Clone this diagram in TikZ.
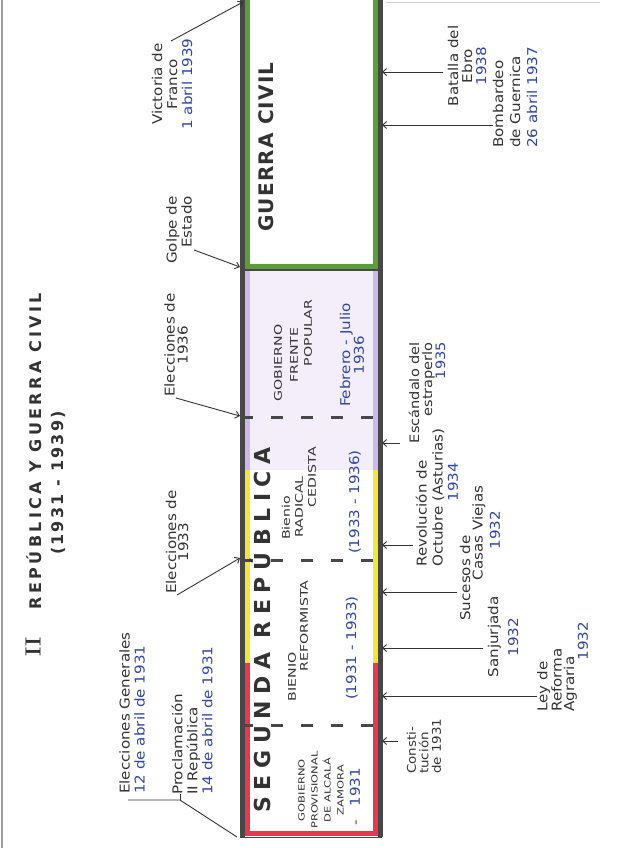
\documentclass[tikz,border=0pt]{standalone}
\usepackage{fontspec}
\usetikzlibrary{arrows.meta}
\newfontfamily\hand{DejaVu Sans}[FakeStretch=1.12]
\newfontfamily\capsf{DejaVu Sans}[FakeStretch=1.35]
\newfontfamily\blockf{DejaVu Sans}
\definecolor{ink}{HTML}{333333}
\definecolor{pen}{HTML}{2F45A8}
\definecolor{barline}{HTML}{474747}
\definecolor{rojo}{HTML}{E8384F}
\definecolor{amar}{HTML}{F2E63D}
\definecolor{lila}{HTML}{CDB9E8}
\definecolor{lilaf}{HTML}{F4EEFA}
\definecolor{verde}{HTML}{5A9E3A}
\begin{document}
\begin{tikzpicture}[x=1pt,y=-1pt,
  lab/.style={rotate=90,text=ink,inner sep=1pt,font=\hand\fontsize{13.5}{14}\selectfont},
  labd/.style={lab,text=pen},
  inb/.style={rotate=90,text=ink,inner sep=1pt,font=\capsf\fontsize{10.5}{12}\selectfont},
  arr/.style={draw=ink,line width=0.9pt,-{Straight Barb[length=4pt,width=7pt]}},
  conn/.style={draw=ink,line width=0.9pt},
  dsh/.style={draw=barline,line width=3pt,dash pattern=on 12pt off 18pt},
  stripe/.style={line width=5pt},
]
\useasboundingbox (0,0) rectangle (618,848);
\fill[white] (0,0) rectangle (618,848);
% page edges
\draw[gray!75,line width=2.5pt] (2,0) -- (2,848);
\draw[gray!35,line width=1pt] (386,3) -- (600,3);

% ---- bar ----
\fill[lilaf] (244,270) rectangle (378,470);
\draw[verde,stripe] (247,0) -- (247,266) -- (375,266) -- (375,0);
\draw[lila,stripe] (247,270) -- (247,470) (375,270) -- (375,470);
\draw[amar,stripe] (247,470) -- (247,663) (375,470) -- (375,663);
\draw[rojo,stripe] (247,663) -- (247,833) -- (375,833) -- (375,663);
\draw[barline,line width=5pt] (242,0) -- (242,837) (380,0) -- (380,837);
\draw[barline,line width=2pt] (242,269.5) -- (380,269.5);
\draw[barline,line width=1pt] (240,837) -- (382,837);
\draw[dsh] (241,417) -- (380,417);
\draw[dsh] (241,560) -- (380,560);
\draw[dsh] (241,725) -- (380,725);

\coordinate (barR) at (382,0);
\coordinate (barBL) at (237,837);
\coordinate (b33) at (240,558);
\coordinate (b36) at (240,416);
\coordinate (bGolpe) at (240,267);
\coordinate (bTop) at (243,2);

% ---- title ----
\node[rotate=90,text=ink,inner sep=0pt,font=\rmfamily\bfseries\fontsize{22}{22}\selectfont] (tII) at (33,647) {II};
\node[rotate=90,text=ink,inner sep=0pt,font=\blockf\bfseries\fontsize{16}{16}\selectfont\addfontfeature{LetterSpace=21}] (ttl) at (34,451) {REPÚBLICA Y GUERRA CIVIL};
\node[rotate=90,text=ink,inner sep=0pt,font=\blockf\bfseries\fontsize{16}{16}\selectfont\addfontfeature{LetterSpace=14}] (ttly) at (58,483) {(1931 - 1939)};

% ---- big words in bar ----
\node[rotate=90,text=ink,inner sep=0pt,font=\blockf\bfseries\fontsize{22}{22}\selectfont\addfontfeature{LetterSpace=30}] (segrep) at (260,630) {SEGUNDA REPÚBLICA};
\node[rotate=90,text=ink,inner sep=0pt,font=\blockf\bfseries\fontsize{20}{20}\selectfont\addfontfeature{LetterSpace=6}] (gcivil) at (266,147) {GUERRA CIVIL};

% ---- inside bar ----
\node[inb,align=center,font=\capsf\fontsize{8.5}{13}\selectfont] (gprov) at (321,790) {GOBIERNO\\PROVISIONAL\\DE ALCALÁ\\ZAMORA};
\node[labd] (gprovy) at (355,797) {-\hspace{14pt}1931};
\node[inb] (bref1) at (292,677) {BIENIO};
\node[inb] (bref2) at (304,626) {REFORMISTA};
\node[labd] (brefy) at (352,648) {(1931 - 1933)};
\node[inb] (brad1) at (286,518) {Bienio};
\node[inb] (brad2) at (299,507) {RADICAL};
\node[inb] (brad3) at (312,477) {CEDISTA};
\node[labd] (brady) at (355,502) {(1933 - 1936)};
\node[inb] (gfp1) at (278,363) {GOBIERNO};
\node[inb] (gfp2) at (294,355) {FRENTE};
\node[inb] (gfp3) at (308,333) {POPULAR};
\node[labd,align=center,font=\hand\fontsize{13.5}{12.5}\selectfont] (gfpy) at (352,355) {Febrero - Julio\\1936};

% ---- left annotations ----
\node[lab,align=left,anchor=west,font=\hand\fontsize{13.5}{15}\selectfont] (elgen) at (132,795) {Elecciones Generales\\\textcolor{pen}{12 de abril de 1931}};
\node[lab,align=left,anchor=west,font=\hand\fontsize{13.5}{15}\selectfont] (procl) at (192,796) {Proclamación\\II República\\\textcolor{pen}{14 de abril de 1931}};
\coordinate (kA) at (128,800);
\coordinate (kB) at (180,800);
\draw[conn] (kA) -- (kB) -- (barBL);
\draw[conn] (kB) -- ++(0,-6);

\node[lab,align=center,font=\hand\fontsize{13.5}{12}\selectfont] (e33) at (177,542) {Elecciones de\\1933};
\draw[arr] (e33.west) -- (b33);
\node[lab,align=center,font=\hand\fontsize{13.5}{13}\selectfont] (e36) at (176,345) {Elecciones de\\1936};
\draw[arr] (e36.west) -- (b36);
\node[lab,align=right,font=\hand\fontsize{13.5}{15}\selectfont] (golpe) at (179,230) {Golpe de\\Estado};
\coordinate (gS) at (194,250);
\draw[arr] (gS) -- (bGolpe);
\node[lab,align=center,font=\hand\fontsize{13.5}{15}\selectfont] (franco) at (172,84) {Victoria de\\Franco\\\textcolor{pen}{1 abril 1939}};
\coordinate (vS) at (171,41);
\draw[arr] (vS) -- (bTop);

% ---- right annotations ----
\node[lab,align=center] (ebro) at (467,66) {Batalla del\\Ebro\\\textcolor{pen}{1938}};
\coordinate (tEbro) at (443,72);
\draw[arr] (tEbro) -- (tEbro -| barR);

\node[lab,align=left,anchor=west,font=\hand\fontsize{13.5}{17}\selectfont] (guern) at (515,149) {Bombardeo\\de Guernica\\\textcolor{pen}{26 abril 1937}};
\coordinate (tGuern) at (493,125);
\draw[arr] (tGuern) -- (tGuern -| barR);

\node[lab,align=right,anchor=east,font=\hand\fontsize{13}{13}\selectfont] (escand) at (427,341) {Escándalo del\\estraperlo\\\textcolor{pen}{1935}};
\coordinate (tEsc) at (400,443);
\draw[arr] (tEsc) -- (tEsc -| barR);

\node[lab,align=left,anchor=west,font=\hand\fontsize{13.5}{16}\selectfont] (revol) at (430,568) {Revolución de\\Octubre (Asturias)};
\node[labd] (revy) at (453,482) {1934};
\coordinate (tRev) at (413,545);
\draw[arr] (tRev) -- (tRev -| barR);

\node[lab] (suc1) at (465,578) {Sucesos de};
\node[lab] (suc2) at (479,533) {Casas Viejas};
\node[labd] (sucy) at (495,530) {1932};
\coordinate (tSuc) at (457,592);
\draw[arr] (tSuc) -- (tSuc -| barR);

\node[lab,align=center,font=\hand\fontsize{13.5}{20}\selectfont] (sanj) at (503,637) {Sanjurjada\\\textcolor{pen}{1932}};
\coordinate (tSanj) at (483,648);
\draw[arr] (tSanj) -- (tSanj -| barR);

\node[lab,align=left,anchor=west,font=\hand\fontsize{13.5}{12.5}\selectfont] (ley) at (557,713) {Ley de\\Reforma\\Agraria};
\node[labd] (leyy) at (583,641) {1932};
\coordinate (tLey) at (537,696);
\draw[arr] (tLey) -- (tLey -| barR);

\node[lab,align=left,anchor=west,font=\hand\fontsize{12}{12.5}\selectfont] (const) at (424,775) {Consti-\\tución\\de 1931};
\coordinate (tConst) at (398,741);
\draw[arr] (tConst) -- (tConst -| barR);
\end{tikzpicture}
\end{document}
